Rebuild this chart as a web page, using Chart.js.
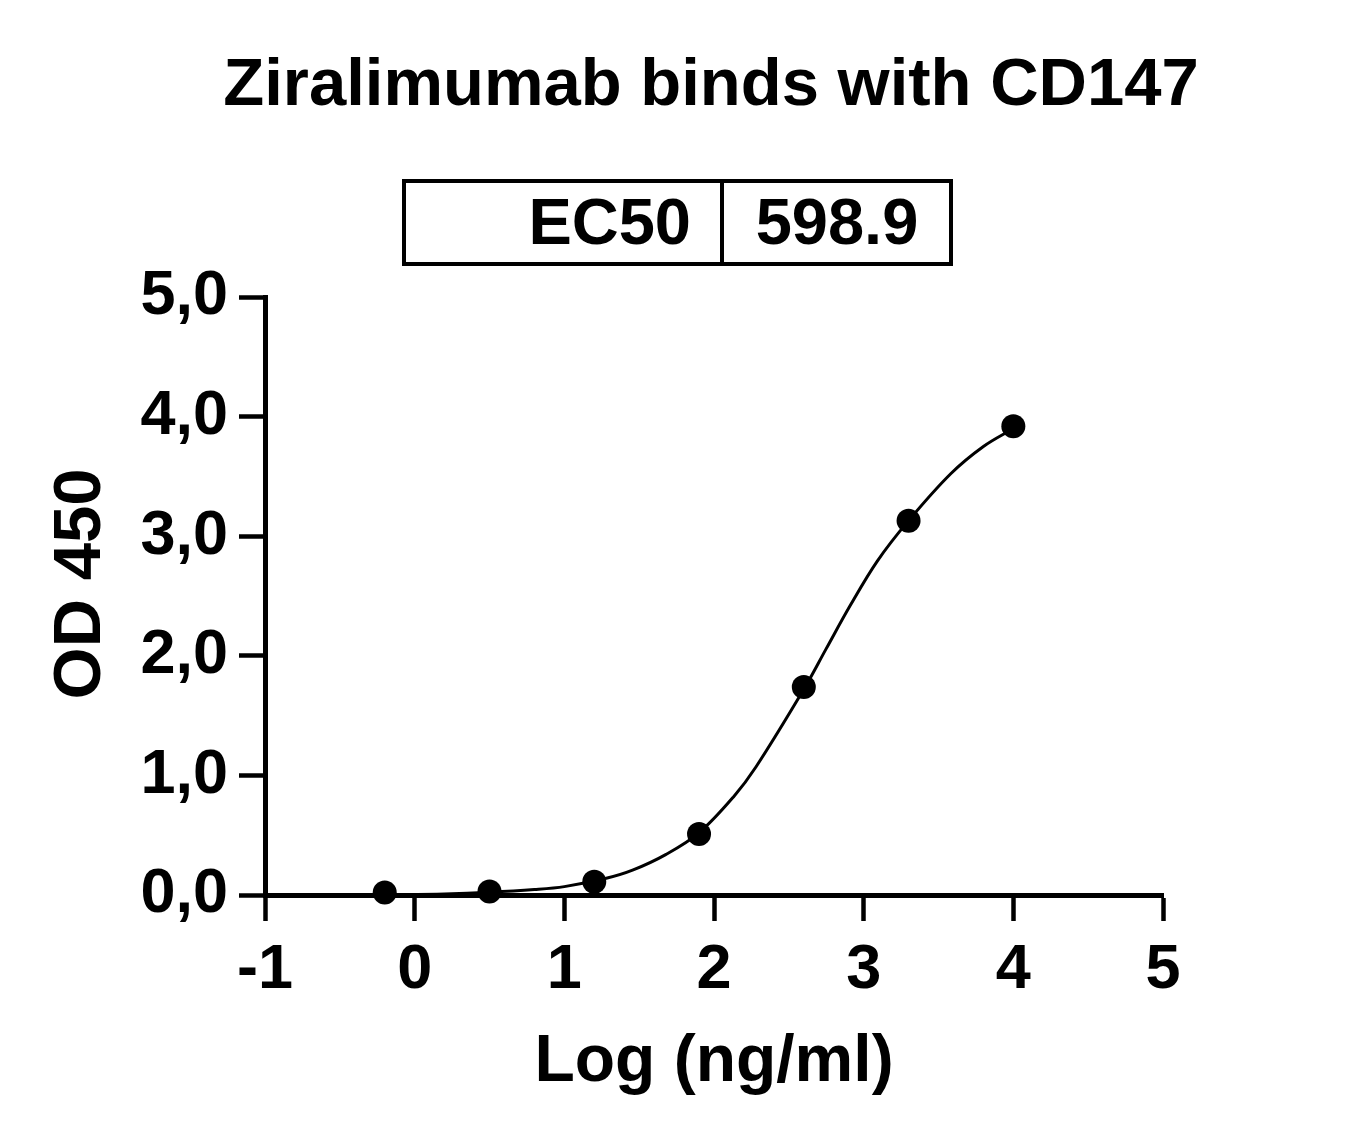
<!DOCTYPE html>
<html>
<head>
<meta charset="utf-8">
<script src="https://cdn.jsdelivr.net/npm/chart.js@4.4.1/dist/chart.umd.min.js"></script>
<style>
body { margin: 0; background: #fff; }
#wrap { width: 1362px; height: 1142px; position: relative; }
</style>
</head>
<body>
<div id="wrap"><canvas id="odChart"></canvas></div>
<script>
// measured points (log concentration vs OD 450)
const doseLog = [-0.2, 0.5, 1.2, 1.9, 2.6, 3.3, 4.0];
const od450 = [0.02, 0.03, 0.11, 0.51, 1.74, 3.13, 3.92];

// fitted curve
const fitLog = [-0.2, 0.2, 0.5, 0.8, 1.0, 1.28, 1.46, 1.68, 1.9, 2.13, 2.28, 2.6, 2.75, 2.91, 3.09, 3.3, 3.58, 3.8, 4.0];
const fitOD = [0.0, 0.008, 0.022, 0.045, 0.07, 0.14, 0.21, 0.34, 0.52, 0.82, 1.07, 1.72, 2.06, 2.42, 2.79, 3.13, 3.52, 3.75, 3.90];

const xRange = [-1, 5];
const yRange = [0, 5];

const titleText = "Ziralimumab binds with CD147";
const yTitle = "OD 450";
const xTitle = "Log (ng/ml)";
const ec50Label = "EC50";
const ec50Value = "598.9";

const FONT = '"Liberation Sans", Arial, Helvetica, sans-serif';

const headerPlugin = {
    id: "header",
    afterDraw(chart) {
        const ctx = chart.ctx;
        ctx.save();
        ctx.fillStyle = "#000";
        ctx.textBaseline = "alphabetic";
        ctx.font = "bold 67px " + FONT;
        ctx.textAlign = "center";
        ctx.fillText(titleText, 711, 105);

        // EC50 table
        ctx.strokeStyle = "#000";
        ctx.lineWidth = 4;
        ctx.strokeRect(404, 181, 547, 83);
        ctx.beginPath();
        ctx.moveTo(722, 181);
        ctx.lineTo(722, 264);
        ctx.stroke();

        ctx.font = "bold 65px " + FONT;
        ctx.textAlign = "right";
        ctx.fillText(ec50Label, 691, 244);
        ctx.textAlign = "center";
        ctx.fillText(ec50Value, 837, 244);

        // y axis title
        ctx.translate(82, 584);
        ctx.rotate(-Math.PI / 2);
        ctx.font = "bold 67px " + FONT;
        ctx.textBaseline = "middle";
        ctx.textAlign = "center";
        ctx.fillText(yTitle, 0, 0);
        ctx.restore();
    }
};

function toXY(xs, ys) {
    return xs.map((x, i) => ({ x: x, y: ys[i] }));
}

new Chart(document.getElementById("odChart"), {
    type: "scatter",
    data: {
        datasets: [
            {
                label: "fit",
                data: toXY(fitLog, fitOD),
                showLine: true,
                borderColor: "#000",
                borderWidth: 3,
                pointRadius: 0,
                tension: 0.35,
                fill: false
            },
            {
                label: "OD 450",
                data: toXY(doseLog, od450),
                showLine: false,
                pointRadius: 12,
                pointBorderWidth: 0,
                backgroundColor: "#000",
                borderColor: "#000",
                clip: false
            }
        ]
    },
    options: {
        responsive: true,
        maintainAspectRatio: false,
        animation: false,
        layout: { padding: { left: 0, top: 297, right: 199, bottom: 0 } },
        plugins: {
            legend: { display: false },
            tooltip: { enabled: false }
        },
        scales: {
            x: {
                type: "linear",
                min: xRange[0],
                max: xRange[1],
                afterFit: (scale) => { scale.height = 247; },
                ticks: {
                    stepSize: 1,
                    color: "#000",
                    padding: 12,
                    font: { family: FONT, size: 63, weight: "bold" }
                },
                grid: {
                    drawOnChartArea: false,
                    drawTicks: true,
                    tickLength: 26,
                    tickWidth: 4.5,
                    tickColor: "#000"
                },
                border: { display: true, color: "#000", width: 5 },
                title: {
                    display: true,
                    text: xTitle,
                    color: "#000",
                    padding: { top: 0, bottom: 40 },
                    font: { family: FONT, size: 66, weight: "bold" }
                }
            },
            y: {
                type: "linear",
                min: yRange[0],
                max: yRange[1],
                afterFit: (scale) => { scale.width = 265; },
                ticks: {
                    stepSize: 1,
                    color: "#000",
                    padding: 11,
                    font: { family: FONT, size: 63, weight: "bold" },
                    callback: (v) => v.toFixed(1).replace(".", ",")
                },
                grid: {
                    drawOnChartArea: false,
                    drawTicks: true,
                    tickLength: 26,
                    tickWidth: 4.5,
                    tickColor: "#000"
                },
                border: { display: true, color: "#000", width: 5 },
                title: { display: false }
            }
        }
    },
    plugins: [headerPlugin]
});
</script>
</body>
</html>
